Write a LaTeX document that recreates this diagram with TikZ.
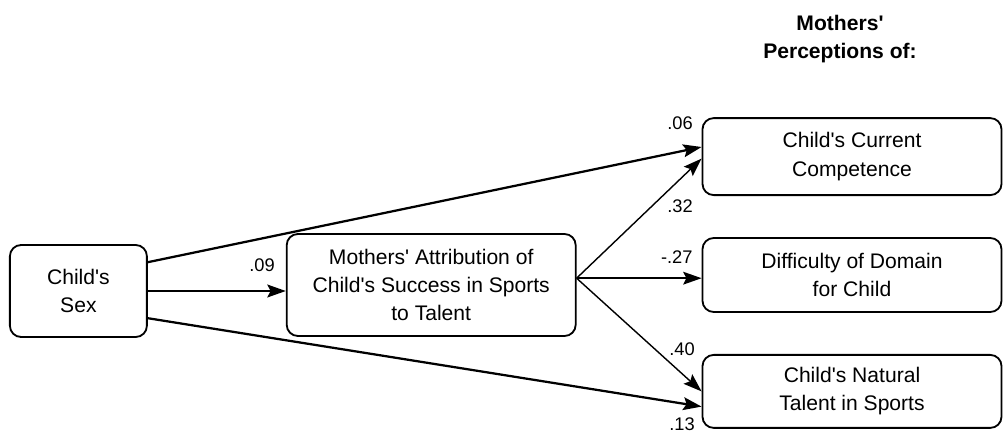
\documentclass[tikz,border=0pt]{standalone}
\usepackage{fontspec}
\setmainfont{Liberation Sans}
\usetikzlibrary{arrows.meta,calc}
\newcommand{\ap}{\textquotesingle}

\begin{document}
\begin{tikzpicture}[
  box/.style={draw,line width=1.3pt,rounded corners=0.28cm,align=center,
    font=\fontsize{15}{20}\selectfont,inner sep=0pt},
  coef/.style={font=\fontsize{13}{15}\selectfont,inner sep=1pt},
  heavy/.style={line width=1.6pt,-{Stealth[length=0.46cm,width=0.32cm,inset=0.08cm]}},
  light/.style={line width=1pt,-{Stealth[length=0.46cm,width=0.32cm,inset=0.08cm]}}
]
\useasboundingbox (0,0) rectangle (25.075,10.875);

% boxes
\node[box,minimum width=3.425cm,minimum height=2.3cm] (sex) at (1.96,3.6) {Child\ap s\\Sex};
\node[box,minimum width=7.225cm,minimum height=2.55cm] (att) at (10.78,3.75)
  {Mothers\ap\ Attribution of\\Child\ap s Success in Sports\\to Talent};
\node[box,minimum width=7.475cm,minimum height=1.925cm] (cur) at (21.3,6.96)
  {Child\ap s Current\\Competence};
\node[box,minimum width=7.475cm,minimum height=1.85cm] (dif) at (21.3,4.0)
  {Difficulty of Domain\\for Child};
\node[box,minimum width=7.475cm,minimum height=1.825cm] (nat) at (21.3,1.09)
  {Child\ap s Natural\\Talent in Sports};

\node[align=center,font=\fontsize{15}{20}\bfseries\selectfont] (head) at (21.0,9.9)
  {Mothers\ap\\Perceptions of:};

% where the paths leave and meet the boxes
\coordinate (hub) at ($(att.east)+(0,0.17)$);
\coordinate (curA) at ($(cur.west)+(0,0.24)$);
\coordinate (curB) at ($(cur.west)+(0,-0.05)$);
\coordinate (natA) at ($(nat.west)+(0,0)$);
\coordinate (natB) at ($(nat.west)+(0,-0.38)$);

\draw[heavy] ($(sex.east)+(0,0.72)$) -- (curA);
\draw[heavy] (sex.east) -- (sex.east -| att.west);
\draw[heavy] ($(sex.east)+(0,-0.68)$) -- (natB);

\draw[light] (hub) -- (curB);
\draw[light] (hub) -- (hub -| dif.west);
\draw[light] (hub) -- (natA);

% path coefficients
\node[coef] (c09) at (6.55,4.25) {.09};
\node[coef] (c06) at (17.0,7.8) {.06};
\node[coef] (c32) at (17.0,5.72) {.32};
\node[coef] (c27) at (16.92,4.45) {-.27};
\node[coef] (c40) at (17.05,2.15) {.40};
\node[coef] (c13) at (17.05,0.27) {.13};
\end{tikzpicture}
\end{document}
